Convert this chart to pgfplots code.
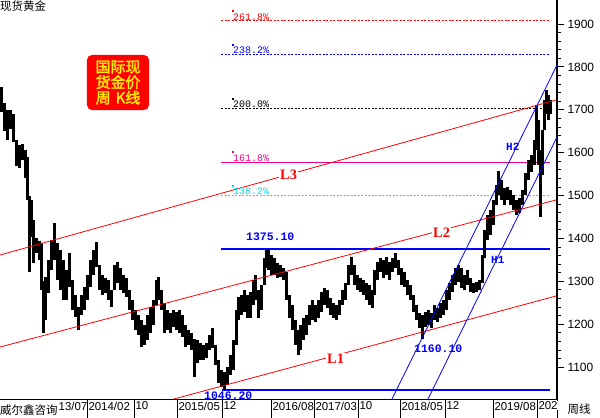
\documentclass[border=0pt]{standalone}
\usepackage{pgfplots}
\pgfplotsset{compat=1.18}
\usepackage{pgfplotstable}
\usepackage{fontspec}
\setmainfont{Liberation Sans}
\newfontfamily\mono{Liberation Mono}
\newfontfamily\serif{Liberation Serif}
\newfontfamily\cjk{Noto Sans CJK SC}
\newfontfamily\cjkb[FakeBold=2]{Noto Sans CJK SC}

\definecolor{fibcyan}{RGB}{0,230,230}

% weekly bars, x in chart units (about one unit per pixel), low / high price
\pgfplotstableread{
x lo hi
1 1695 1753
4 1650 1715
7 1630 1700
10 1655 1700
13 1625 1690
16 1570 1630
19 1565 1618
22 1583 1620
25 1541 1606
27 1490 1590
29 1322 1500
31 1403 1490
33 1343 1443
36 1366 1400
39 1350 1395
41 1280 1390
43 1180 1300
45 1210 1310
48 1273 1350
51 1326 1396
54 1350 1436
57 1303 1390
60 1280 1373
63 1256 1350
66 1256 1326
69 1287 1366
72 1233 1303
75 1217 1268
78 1186 1240
81 1222 1268
84 1233 1287
87 1256 1315
90 1287 1350
93 1315 1373
96 1333 1391
99 1280 1338
102 1268 1315
105 1273 1308
108 1256 1303
111 1240 1280
114 1280 1338
117 1296 1345
120 1280 1331
123 1273 1315
126 1263 1308
129 1233 1280
132 1210 1256
135 1186 1233
138 1175 1221
141 1147 1210
144 1152 1198
147 1163 1221
150 1179 1240
153 1198 1256
156 1245 1303
158 1256 1310
161 1233 1280
164 1179 1249
167 1186 1233
170 1179 1226
173 1193 1233
176 1186 1228
179 1179 1233
182 1170 1221
185 1147 1198
188 1152 1186
191 1140 1180
194 1077 1165
197 1109 1163
200 1116 1156
203 1116 1152
206 1121 1156
209 1140 1175
212 1145 1191
215 1105 1152
218 1063 1116
221 1053 1093
224 1046 1088
227 1058 1100
230 1081 1128
233 1093 1163
236 1152 1233
238 1210 1263
241 1222 1268
244 1228 1280
247 1214 1268
250 1214 1275
253 1245 1303
255 1256 1315
258 1214 1280
261 1233 1291
264 1291 1355
266 1331 1373
268 1326 1375
271 1315 1361
274 1315 1355
277 1308 1343
280 1310 1338
283 1303 1331
286 1256 1322
289 1214 1268
292 1186 1245
295 1152 1210
298 1128 1186
300 1140 1198
303 1163 1214
306 1175 1221
309 1198 1245
312 1210 1256
315 1205 1245
318 1214 1256
321 1228 1275
324 1245 1285
327 1238 1280
330 1221 1261
333 1214 1249
336 1210 1245
339 1221 1256
342 1245 1280
345 1256 1296
348 1291 1338
351 1315 1357
354 1291 1338
357 1280 1315
360 1275 1308
363 1268 1303
366 1256 1296
369 1245 1291
372 1238 1280
374 1268 1326
377 1303 1345
380 1322 1355
383 1308 1350
386 1315 1357
389 1303 1345
392 1322 1355
395 1331 1366
398 1315 1350
401 1291 1331
404 1287 1322
407 1268 1303
410 1256 1291
413 1228 1268
416 1210 1245
419 1191 1226
422 1165 1221
425 1193 1228
428 1198 1233
431 1191 1226
434 1210 1245
437 1205 1238
440 1214 1249
443 1221 1256
446 1233 1280
449 1256 1296
452 1275 1315
455 1291 1331
458 1298 1338
461 1284 1331
464 1280 1315
467 1291 1326
470 1275 1308
473 1273 1296
476 1275 1298
479 1280 1303
482 1296 1361
484 1354 1420
487 1396 1455
490 1408 1466
493 1431 1490
496 1478 1525
498 1501 1557
501 1490 1536
504 1478 1518
507 1490 1520
510 1478 1513
513 1466 1501
516 1455 1490
519 1459 1494
522 1478 1513
525 1501 1553
528 1536 1583
531 1555 1594
534 1571 1629
536 1606 1711
538 1571 1676
540 1450 1606
542 1548 1653
544 1653 1723
546 1690 1746
548 1676 1734
550 1690 1723
}\bars

\begin{document}
\begin{tikzpicture}
\path[use as bounding box] (0,0) rectangle (600bp,-418bp);
\begin{axis}[
    at={(0,0)}, anchor=north west,
    scale only axis, width=557bp, height=399bp,
    xmin=0, xmax=557, ymin=1025.5, ymax=1956,
    axis x line=bottom, axis y line=right,
    axis line style={-},
    x axis line style={line width=0.8bp},
    y axis line style={line width=2bp},
    tick align=outside,
    major tick length=7bp, minor tick length=4bp,
    ytick={1100,1200,...,1900},
    minor y tick num=4,
    y tick style={black, line width=0.8bp},
    /pgf/number format/assume math mode=true,
    /pgf/number format/1000 sep={},
    yticklabel style={font=\fontsize{12}{13}\selectfont, xshift=0bp},
    xtick=\empty,
    extra x ticks={87,134,177,222,271,314,358,400,445,493,537,557},
    extra x tick labels={2014/02,10,2015/05,12,2016/08,2017/03,10,2018/05,12,2019/08,202,{}},
    extra x tick style={major tick length=19bp, tick style={black, line width=0.8bp},
        xticklabel style={anchor=north west, fill=white, inner sep=0.5bp, xshift=0.8bp, yshift=17bp,
            font=\fontsize{11.5}{12}\selectfont}},
]
% fibonacci levels
\addplot[red, dash pattern=on 2bp off 1.5bp, line width=0.8bp] coordinates {(221,1907.3) (550,1907.3)};
\addplot[blue, dash pattern=on 2bp off 1.5bp, line width=0.8bp] coordinates {(221,1829.6) (550,1829.6)};
\addplot[black, dash pattern=on 2bp off 1.5bp, line width=0.8bp] coordinates {(221,1704.0) (550,1704.0)};
\addplot[magenta, line width=0.8bp] coordinates {(221,1578.4) (550,1578.4)};
\addplot[fibcyan, dash pattern=on 2bp off 1.5bp, line width=0.8bp] coordinates {(221,1500.7) (550,1500.7)};
% support / resistance
\addplot[blue, line width=2.4bp] coordinates {(221,1375.1) (550,1375.1)};
\addplot[blue, line width=2.4bp] coordinates {(222,1046.2) (550,1046.2)};
% price bars
\addplot[draw=none, mark=none,
    error bars/.cd, y dir=minus, y explicit, error mark=none,
    error bar style={draw=black, line width=3bp}]
    table[x=x, y=hi, y error expr=\thisrow{hi}-\thisrow{lo}] {\bars};
% channel lines
\addplot[red, line width=0.8bp] coordinates {(0,1361.3) (556,1722.8)};
\addplot[red, line width=0.8bp] coordinates {(0,1146.7) (556,1489.6)};
\addplot[red, line width=0.8bp] coordinates {(174,1025.5) (556,1265.7)};
\addplot[blue, line width=0.8bp] coordinates {(392,1025.5) (557,1804.4)};
\addplot[blue, line width=0.8bp] coordinates {(428,1025.5) (557,1636.5)};
\end{axis}

\begin{scope}[x=1bp, y=-1bp]
\node[anchor=north west, inner sep=0] at (0,0.5) {\cjk\fontsize{11.5}{12}\selectfont 现货黄金};
\node[fill=red, rounded corners=5bp, minimum width=62bp, minimum height=55bp, inner sep=0,
    text=yellow, align=center, font=\cjkb\fontsize{15}{15.5}\selectfont] at (118,82.5)
    {国际现\\货金价\\周\,\,K线};
% level labels
\foreach \yy/\cc/\tt in {20.9/red/261.8\%, 54.2/blue/238.2\%, 108/black/200.0\%, 161.9/magenta/161.8\%, 195.2/fibcyan/138.2\%}{
  \fill[\cc] (231.5,\yy-10.5) rectangle (233.5,\yy-8.5);
  \node[anchor=base west, inner sep=0, text=\cc, font=\mono\fontsize{10}{11}\selectfont] at (233,\yy-0.5) {\tt};
}
\node[anchor=base west, inner sep=0, text=blue, font=\mono\bfseries\fontsize{11.5}{12}\selectfont] at (246,240.5) {1375.10};
\node[anchor=base west, inner sep=0, text=blue, font=\mono\bfseries\fontsize{11.5}{12}\selectfont] at (204,399.5) {1046.20};
\node[anchor=base west, inner sep=0, text=blue, font=\mono\bfseries\fontsize{11.5}{12}\selectfont] at (414,352.5) {1160.10};
\node[anchor=base west, inner sep=1bp, fill=white, text=red, font=\serif\bfseries\fontsize{14.5}{16}\selectfont] at (279,179.5) {L3};
\node[anchor=base west, inner sep=1bp, fill=white, text=red, font=\serif\bfseries\fontsize{14.5}{16}\selectfont] at (432,237.5) {L2};
\node[anchor=base west, inner sep=1bp, fill=white, text=red, font=\serif\bfseries\fontsize{14.5}{16}\selectfont] at (326,363.5) {L1};
\node[anchor=base west, inner sep=0, text=blue, font=\mono\bfseries\fontsize{11}{12}\selectfont] at (506,150.5) {H2};
\node[anchor=base west, inner sep=0, text=blue, font=\mono\bfseries\fontsize{11}{12}\selectfont] at (491,263.5) {H1};
% bottom strip
\node[anchor=north west, inner sep=0, minimum height=18bp, text depth=0] at (0,400) {\cjk\fontsize{11.5}{12}\selectfont 威尔鑫咨询};
\node[anchor=north west, inner sep=0.5bp, font=\fontsize{11.5}{12}\selectfont] at (58,401.6) {13/07};
\node[anchor=north west, inner sep=0, minimum height=18bp, minimum width=42bp] at (558,400) {\cjk\fontsize{11.5}{12}\selectfont 周线};
\end{scope}
\end{tikzpicture}
\end{document}
